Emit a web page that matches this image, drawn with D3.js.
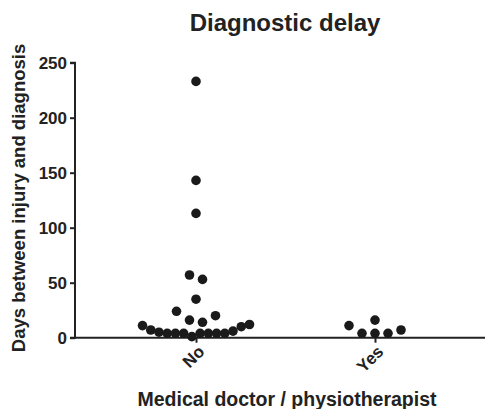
<!DOCTYPE html>
<html><head><meta charset="utf-8">
<script src="https://cdn.jsdelivr.net/npm/d3@7"></script>
<style>body{margin:0;background:#fff}text{font-family:"Liberation Sans",Arial,sans-serif;font-weight:bold;fill:#222}</style>
</head><body><svg id="c" width="489" height="409"></svg>
<script>
const categories = ["No", "Yes"];
const noValues = [11, 7, 5, 4, 4, 4, 1, 4, 4, 4, 4, 6, 10, 12, 24, 16, 14, 20, 35, 57, 53, 113, 143, 233];
const yesValues = [11, 4, 4, 4, 7, 16];
const yTicks = [0, 50, 100, 150, 200, 250];
const title = "Diagnostic delay";
const xTitle = "Medical doctor / physiotherapist";
const yTitle = "Days between injury and diagnosis";

const svg = d3.select("#c");
const mLeft = 75, mRight = 485, mTop = 62.7, mBottom = 337.7;
const x = d3.scalePoint().domain(categories).range([mLeft + 121, mLeft + 300]);
const y = d3.scaleLinear().domain([0, 250]).range([mBottom, mTop]);
const ink = "#222";

// y axis
const ya = svg.append("g").attr("transform", `translate(${mLeft},0)`)
  .call(d3.axisLeft(y).tickValues(yTicks).tickSize(5).tickPadding(3));
ya.select(".domain").attr("stroke", ink).attr("stroke-width", 2).attr("d", `M-5,${mTop}H0V${mBottom}H-5`);
ya.selectAll(".tick line").attr("stroke", ink).attr("stroke-width", 2);
ya.selectAll(".tick text").style("font-size", "17px").style("font-family", "Liberation Sans").style("font-weight", "bold").attr("fill", ink);

// x axis
const xa = svg.append("g").attr("transform", `translate(0,${mBottom})`)
  .call(d3.axisBottom(x).tickSize(5).tickPadding(3));
xa.select(".domain").attr("stroke", ink).attr("stroke-width", 2).attr("d", `M${mLeft},0H${mRight}`);
xa.selectAll(".tick line").attr("stroke", ink).attr("stroke-width", 2);
xa.selectAll(".tick text").style("font-size", "17px").style("font-family", "Liberation Sans").style("font-weight", "bold").attr("fill", ink)
  .attr("text-anchor", "end").attr("dy", null).attr("y", 0)
  .attr("transform", "translate(9,15) rotate(-45)");

// beeswarm-style rows
const binSize = 13, maxSpan = 107, maxStep = 13;
function layout(cat, vals) {
  const rows = d3.group(vals.map((v, i) => ({v, i})), d => Math.floor(d.v / binSize));
  const pts = [];
  for (const [, row] of rows) {
    const n = row.length;
    const step = n > 1 ? Math.min(maxStep, maxSpan / (n - 1)) : 0;
    row.forEach((d, k) => pts.push({cat, v: d.v, dx: (k - (n - 1) / 2) * step}));
  }
  return pts;
}
const points = layout("No", noValues).concat(layout("Yes", yesValues));
svg.append("g").selectAll("circle").data(points).join("circle")
  .attr("cx", d => x(d.cat) + d.dx).attr("cy", d => y(d.v)).attr("r", 4.8).attr("fill", "#1a1a1a");

svg.append("text").attr("x", 285).attr("y", 31).attr("text-anchor", "middle").style("font-size", "24px").text(title);
svg.append("text").attr("x", 287).attr("y", 406).attr("text-anchor", "middle").style("font-size", "19.5px").text(xTitle);
svg.append("text").attr("transform", `translate(25,198) rotate(-90)`).attr("text-anchor", "middle").style("font-size", "18.5px").text(yTitle);
</script></body></html>
